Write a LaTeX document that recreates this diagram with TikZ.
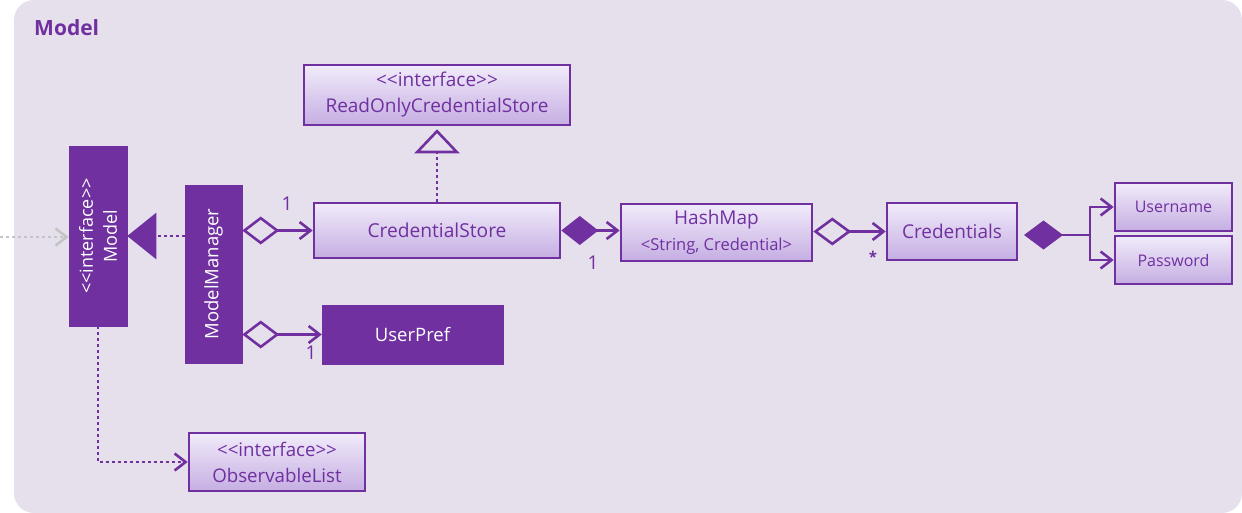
\documentclass[tikz,border=0pt]{standalone}
\usepackage{fontspec}
\setmainfont{Open Sans}
\usetikzlibrary{arrows.meta,calc}
\definecolor{purp}{HTML}{7030A0}
\definecolor{bgc}{HTML}{E6E0ED}
\definecolor{btop}{HTML}{F1EBFA}
\definecolor{bbot}{HTML}{C5AEE2}
\definecolor{gdot}{HTML}{C4C4C4}
\newcommand{\fs}[1]{\fontsize{#1}{#1}\selectfont}
\newcommand{\fsb}[2]{\fontsize{#1}{#2}\selectfont}
\tikzset{
  x=1pt,y=1pt,
  cbox/.style={draw=purp, line width=2.6pt, top color=btop, bottom color=bbot, text=purp, inner sep=0pt, align=center},
  sbox/.style={draw=purp, line width=0.5pt, fill=purp, text=white, inner sep=0pt, align=center},
  conn/.style={draw=purp, line width=2.6pt},
  pdot/.style={conn, dash pattern=on 3pt off 3pt},
  openarr/.style={-{Straight Barb[length=11pt,width=17pt]}},
  mult/.style={text=purp, font=\fs{19}, inner sep=0pt},
}
\begin{document}
\begin{tikzpicture}
\useasboundingbox (0,0) rectangle (1242,-513);
\fill[bgc, rounded corners=20pt] (14,0) rectangle (1242,-513);
\node[anchor=west, text=purp, font=\bfseries\fs{21}, inner sep=0pt] (title) at (34,-28) {Model};

% class boxes
\node[sbox, rotate=90, minimum width=180, minimum height=58, font=\fsb{18}{24}] (model) at (98,-236) {<{}<interface>{}>\\Model};
\node[sbox, rotate=90, minimum width=178, minimum height=57, font=\fs{18.5}] (mm) at (213.5,-274) {ModelManager};
\node[cbox, minimum width=266, minimum height=60, font=\fsb{19}{26}] (ro) at (437,-95) {<{}<interface>{}>\\ReadOnlyCredentialStore};
\node[cbox, minimum width=246, minimum height=55, font=\fs{19.2}] (cs) at (437,-230.5) {CredentialStore};
\node[cbox, minimum width=191, minimum height=57, font=\fsb{19}{26}] (hm) at (716.5,-232.5) {HashMap\\{\fs{16.5}<String, Credential>}};
\node[cbox, minimum width=130, minimum height=57, font=\fs{19}] (cr) at (952,-231.5) {Credentials};
\node[cbox, minimum width=117, minimum height=48, font=\fs{16}] (un) at (1173.5,-207) {Username};
\node[cbox, minimum width=117, minimum height=48, font=\fs{16}] (pw) at (1173.5,-260) {Password};
\node[sbox, minimum width=181, minimum height=59, font=\fs{18.5}] (up) at (412.5,-334.5) {UserPref};
\node[cbox, minimum width=176, minimum height=58, font=\fsb{18.7}{26}] (ol) at (277,-462) {<{}<interface>{}>\\ObservableList};

% connectors
\coordinate (gs) at (0,-237);
\draw[draw=gdot, line width=2.6pt, dash pattern=on 3pt off 3pt, openarr] (gs) -- (gs -| model.north);
\draw[pdot, -{Triangle[length=29pt,width=46pt,fill=purp]}] (mm.north |- model.south) -- (model.south);
\draw[conn, {Diamond[open,length=37pt,width=28pt]}-{Straight Barb[length=11pt,width=17pt]}] (mm.south |- cs.west) -- (cs.west);
\draw[conn, {Diamond[open,length=37pt,width=28pt]}-{Straight Barb[length=11pt,width=17pt]}] (mm.south |- up.west) -- (up.west);
\draw[conn, {Diamond[length=37pt,width=29pt]}-{Straight Barb[length=11pt,width=17pt]}] (cs.east) -- (cs.east -| hm.west);
\draw[conn, {Diamond[open,length=38pt,width=28pt]}-{Straight Barb[length=11pt,width=17pt]}] (hm.east |- cr.west) -- (cr.west);
\coordinate (cd) at (1024,-235);
\coordinate (br) at (1090,-235);
\draw[conn, {Diamond[length=39pt,width=29pt]}-] (cd) -- (br);
\draw[conn, openarr] (br) |- (un.west);
\draw[conn, openarr] (br) |- (pw.west);
\draw[pdot, -{Triangle[open,length=24pt,width=45pt]}, shorten >=3pt] (cs.north) -- (ro.south);
\draw[pdot, openarr] (model.west) |- (ol.west);

% multiplicities
\node[mult] (m1) at (287,-204) {1};
\node[mult] (m2) at (593,-263) {1};
\node[mult] (m3) at (311,-353) {1};
\node[mult, font=\bfseries\fs{15}] (m4) at (873,-257) {*};
\end{tikzpicture}
\end{document}
